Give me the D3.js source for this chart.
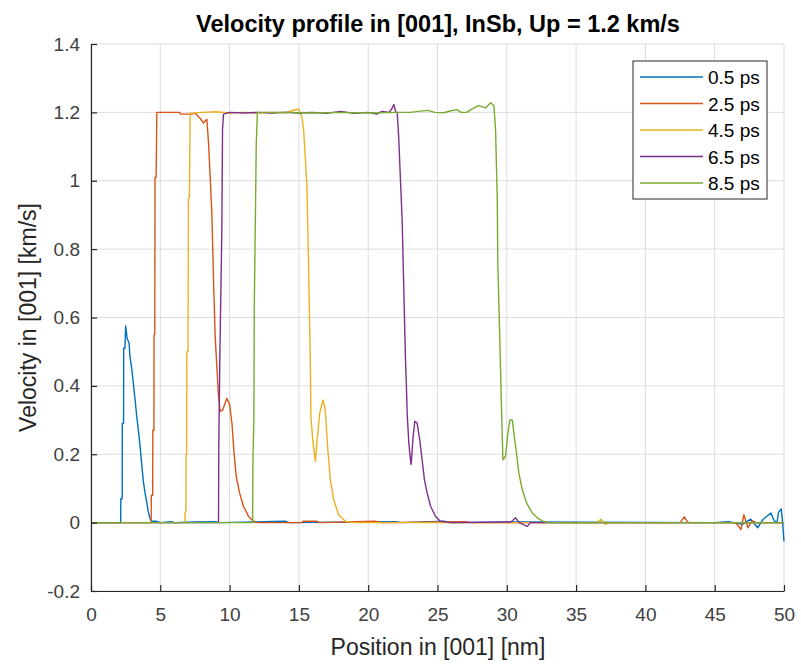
<!DOCTYPE html>
<html>
<head>
<meta charset="utf-8">
<script src="https://cdn.jsdelivr.net/npm/d3@7"></script>
<style>
  body { margin: 0; background: #fff; }
  text { font-family: "Liberation Sans", Arial, sans-serif; }
</style>
</head>
<body>
<div id="container"></div>
<script>
// chart data
const seriesNames = ["0.5 ps", "2.5 ps", "4.5 ps", "6.5 ps", "8.5 ps"];
const xTicks = [0, 5, 10, 15, 20, 25, 30, 35, 40, 45, 50];
const yTicks = [-0.2, 0, 0.2, 0.4, 0.6, 0.8, 1, 1.2, 1.4];

const v05 = [[0,0],[2.14,0],[2.15,0.07],[2.25,0.07],[2.26,0.29],[2.35,0.29],[2.36,0.51],[2.45,0.51],[2.5,0.575],[2.55,0.56],
  [2.6,0.54],[2.75,0.525],[2.8,0.49],[2.94,0.45],[3.05,0.41],[3.18,0.36],[3.3,0.31],[3.42,0.27],[3.55,0.22],[3.66,0.17],
  [3.78,0.12],[3.9,0.087],[4.02,0.06],[4.14,0.03],[4.26,0.012],[4.38,0.004],[4.7,0.004],[5.0,0],[5.8,0.003],[6.0,0],
  [7.5,0.002],[9.0,0.003],[9.3,0],[14.0,0.004],[14.3,0],[22.0,0.003],[22.4,0],[25.5,0.004],[25.9,0],[31.0,0.002],
  [45.0,0],[46.0,0.003],[47.0,-0.005],[47.6,0.01],[48.1,-0.015],[48.5,0.01],[49.06,0.028],[49.3,0.005],[49.5,0],
  [49.6,0.03],[49.8,0.04],[49.9,0],[50,-0.055]];

const v25 = [[0,0],[4.34,0],[4.35,0.08],[4.45,0.08],[4.46,0.27],[4.54,0.27],[4.55,0.55],[4.6,0.55],[4.62,1.01],[4.7,1.01],
  [4.75,1.2],[6.4,1.2],[6.45,1.195],[7.3,1.195],[7.5,1.198],[7.88,1.182],[8.12,1.169],[8.36,1.18],[8.48,1.11],[8.6,1.01],
  [8.72,0.905],[8.84,0.71],[8.96,0.544],[9.08,0.456],[9.2,0.369],[9.32,0.325],[9.51,0.33],[9.8,0.364],[10.0,0.345],
  [10.17,0.29],[10.33,0.2],[10.48,0.135],[10.72,0.087],[11.0,0.048],[11.37,0.018],[11.73,0.004],[12.0,0],[15.2,0],
  [15.3,0.004],[16.3,0.004],[16.5,0],[20.5,0.004],[21.0,0],[27.0,0.003],[27.4,0],[42.5,0],[42.8,0.017],[43.1,0],
  [46.5,0],[46.9,-0.02],[47.1,0.023],[47.4,-0.015],[47.7,0.005],[48.0,0],[50,0]];

const v45 = [[0,0],[6.78,0],[6.79,0.03],[6.85,0.03],[6.86,0.2],[6.9,0.2],[6.91,0.5],[7.0,0.5],[7.03,0.95],[7.1,0.95],
  [7.15,1.197],[8.0,1.2],[9.0,1.202],[10.0,1.198],[11.0,1.2],[12.0,1.198],[13.0,1.2],[14.0,1.199],[14.98,1.21],
  [15.22,1.186],[15.34,1.148],[15.46,1.07],[15.58,0.982],[15.7,0.75],[15.82,0.476],[15.87,0.306],[16.0,0.242],
  [16.19,0.179],[16.3,0.233],[16.5,0.32],[16.74,0.359],[16.9,0.33],[17.07,0.223],[17.27,0.125],[17.51,0.067],
  [17.87,0.023],[18.35,0.004],[19.0,0],[36.5,0],[36.8,0.01],[37.1,-0.005],[37.4,0],[50,0]];

const v65 = [[0,0],[9.2,0],[9.22,0.223],[9.3,0.5],[9.44,0.855],[9.49,1.15],[9.56,1.195],[10.0,1.2],[11.0,1.198],
  [12.0,1.2],[13.0,1.198],[14.0,1.2],[15.0,1.198],[16.0,1.2],[17.0,1.197],[18.0,1.203],[19.0,1.197],[20.0,1.2],
  [20.6,1.195],[21.0,1.203],[21.5,1.2],[21.7,1.21],[21.85,1.223],[22.0,1.2],[22.09,1.2],[22.2,1.128],[22.33,1.0],
  [22.45,0.885],[22.57,0.68],[22.69,0.476],[22.75,0.41],[22.81,0.32],[22.93,0.233],[23.05,0.184],[23.1,0.17],
  [23.24,0.252],[23.36,0.296],[23.53,0.291],[23.72,0.242],[23.89,0.184],[24.06,0.125],[24.25,0.087],[24.5,0.048],
  [24.86,0.018],[25.2,0.004],[26.0,0],[30.3,0.002],[30.64,0.014],[30.9,0],[31.2,-0.006],[31.48,-0.011],[31.7,0],[50,0]];

const v85 = [[0,0],[11.66,0],[11.68,0.175],[11.75,0.3],[11.78,0.63],[11.85,0.855],[11.92,1.1],[12.0,1.2],[14.0,1.2],
  [16.0,1.198],[18.0,1.2],[20.0,1.198],[22.0,1.2],[23.05,1.2],[23.6,1.203],[24.3,1.206],[24.8,1.2],[25.46,1.199],
  [25.9,1.204],[26.4,1.208],[26.7,1.2],[27.1,1.2],[27.5,1.21],[27.98,1.22],[28.45,1.213],[28.83,1.228],[29.07,1.22],
  [29.19,1.147],[29.31,0.953],[29.35,0.758],[29.48,0.563],[29.6,0.359],[29.72,0.184],[29.91,0.194],[30.08,0.262],
  [30.22,0.3],[30.4,0.3],[30.51,0.262],[30.7,0.203],[30.87,0.145],[31.12,0.096],[31.43,0.057],[31.84,0.028],
  [32.2,0.014],[32.6,0.004],[33.0,0],[50,0]];

const allSeries = [v05, v25, v45, v65, v85];
const colors = ["#0072BD", "#D95319", "#EDB120", "#7E2F8E", "#77AC30"];

const width = 801, height = 665;
const margin = {left: 91, right: 17, top: 44, bottom: 74};
const axisColor = "#262626";

const svg = d3.select("#container").append("svg")
  .attr("width", width).attr("height", height);

const xScale = d3.scaleLinear().domain([0, 50]).range([margin.left, width - margin.right]);
const yScale = d3.scaleLinear().domain([-0.2, 1.4]).range([height - margin.bottom, margin.top]);

// grid
svg.append("g").selectAll("line").data(xTicks).join("line")
  .attr("x1", d => xScale(d)).attr("x2", d => xScale(d))
  .attr("y1", yScale(-0.2)).attr("y2", yScale(1.4))
  .attr("stroke", "#dcdcdc").attr("stroke-width", 1);
svg.append("g").selectAll("line").data(yTicks).join("line")
  .attr("y1", d => yScale(d)).attr("y2", d => yScale(d))
  .attr("x1", xScale(0)).attr("x2", xScale(50))
  .attr("stroke", "#dcdcdc").attr("stroke-width", 1);

// lines
svg.append("clipPath").attr("id", "clip").append("rect")
  .attr("x", xScale(0)).attr("y", yScale(1.4))
  .attr("width", xScale(50) - xScale(0) + 1).attr("height", yScale(-0.2) - yScale(1.4));

const line = d3.line().x(d => xScale(d[0])).y(d => yScale(d[1]));

svg.append("g").attr("clip-path", "url(#clip)")
  .selectAll("path").data(allSeries).join("path")
  .attr("d", line)
  .attr("fill", "none")
  .attr("stroke", (d, i) => colors[i])
  .attr("stroke-width", 1.4)
  .attr("stroke-linejoin", "round");

// axes
const xAxis = svg.append("g")
  .attr("transform", `translate(0,${yScale(-0.2)})`)
  .call(d3.axisBottom(xScale).tickValues(xTicks).tickSizeInner(-6).tickSizeOuter(0).tickPadding(17));
const yAxis = svg.append("g")
  .attr("transform", `translate(${xScale(0)},0)`)
  .call(d3.axisLeft(yScale).tickValues(yTicks).tickFormat(d => String(d)).tickSizeInner(-6).tickSizeOuter(0).tickPadding(11));

[xAxis, yAxis].forEach(g => {
  g.select(".domain").attr("stroke", axisColor).attr("stroke-width", 1.2);
  g.selectAll(".tick line").attr("stroke", axisColor).attr("stroke-width", 1.2);
  g.selectAll(".tick text").attr("fill", "#404040").style("font-size", "19px")
    .style("font-family", "'Liberation Sans', Arial, sans-serif");
});

// title + labels
svg.append("text").attr("x", 438).attr("y", 32).attr("text-anchor", "middle")
  .style("font-size", "23.5px").style("font-weight", "bold").attr("fill", "#000")
  .text("Velocity profile in [001], InSb, Up = 1.2 km/s");
svg.append("text").attr("x", 438).attr("y", 655).attr("text-anchor", "middle")
  .style("font-size", "23px").attr("fill", "#262626")
  .text("Position in [001] [nm]");
svg.append("text").attr("transform", `translate(36,${(yScale(-0.2) + yScale(1.4)) / 2}) rotate(-90)`)
  .attr("text-anchor", "middle")
  .style("font-size", "23px").attr("fill", "#262626")
  .text("Velocity in [001] [km/s]");

// legend
const legend = svg.append("g");
legend.append("rect").attr("x", 633).attr("y", 61).attr("width", 134).attr("height", 138)
  .attr("fill", "#fff").attr("stroke", axisColor).attr("stroke-width", 1);
const items = legend.selectAll("g.item").data(seriesNames).join("g")
  .attr("transform", (d, i) => `translate(0,${77 + i * 26.5})`);
items.append("line").attr("x1", 640).attr("x2", 703).attr("y1", 0).attr("y2", 0)
  .attr("stroke", (d, i) => colors[i]).attr("stroke-width", 1.4);
items.append("text").attr("x", 708).attr("y", 7).style("font-size", "19px").attr("fill", "#000")
  .text(d => d);
</script>
</body>
</html>
